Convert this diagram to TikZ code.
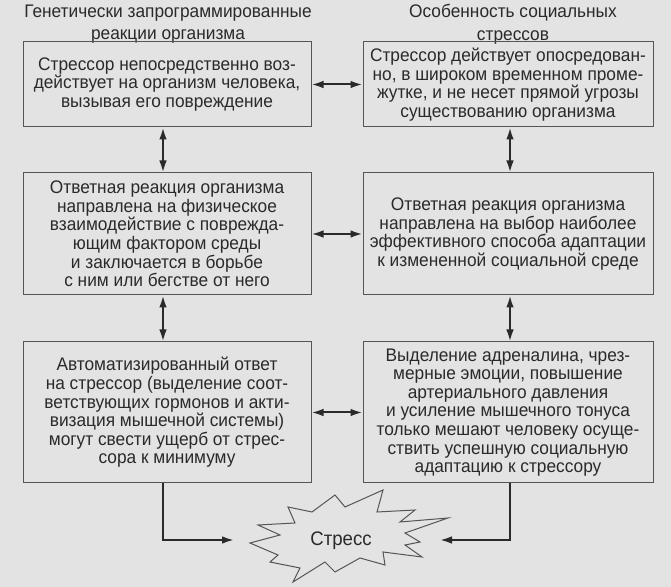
\documentclass[tikz,border=0pt]{standalone}
\usepackage{fontspec}
\setmainfont{Liberation Sans}[FakeStretch=0.95]
\usetikzlibrary{arrows.meta}
\definecolor{paper}{HTML}{E3E3E3}
\definecolor{ink}{HTML}{2A2A2A}
\begin{document}
\begin{tikzpicture}[x=0.5pt,y=-0.5pt,font=\fontsize{9.1}{9.3}\selectfont,text=ink]
\tikzstyle{box}=[draw=ink!80,line width=0.5pt,align=center,minimum width=144pt,inner sep=0pt]
\tikzstyle{head}=[align=center,inner sep=0pt]
\tikzstyle{link}=[{Latex[length=6pt,width=3.8pt]}-{Latex[length=6pt,width=3.8pt]},draw=ink,line width=1pt]
\tikzstyle{tostar}=[-{Latex[length=6pt,width=3.8pt]},draw=ink,line width=1pt]
\fill[paper] (0,0) rectangle (671,587);
\useasboundingbox (0,0) rectangle (671,587);

\node[head](hl) at (168,24) {Генетически запрограммированные\\[2pt]реакции организма};
\node[head](hr) at (513,24) {Особенность социальных\\[2pt]стрессов};

\node[box,minimum height=42.5pt](b1) at (167,84.5) {Стрессор непосредственно воз-\\действует на организм человека,\\вызывая его повреждение};
\node[box,minimum width=145pt,minimum height=42.5pt](b2) at (508,84.5) {Стрессор действует опосредован-\\но, в широком временном проме-\\жутке, и не несет прямой угрозы\\существованию организма};

\node[box,minimum height=61pt](b3) at (167,234) {Ответная реакция организма\\направлена на физическое\\взаимодействие с поврежда-\\ющим фактором среды\\и заключается в борьбе\\с ним или бегстве от него};
\node[box,minimum width=145pt,minimum height=61pt](b4) at (508,234) {Ответная реакция организма\\направлена на выбор наиболее\\эффективного способа адаптации\\к измененной социальной среде};

\node[box,minimum height=70.5pt](b5) at (167,412.5) {Автоматизированный ответ\\на стрессор (выделение соот-\\ветствующих гормонов и акти-\\визация мышечной системы)\\могут свести ущерб от стрес-\\сора к минимуму};
\node[box,minimum width=145pt,minimum height=70.5pt](b6) at (508,412.5) {Выделение адреналина, чрез-\\мерные эмоции, повышение\\артериального давления\\и усиление мышечного тонуса\\только мешают человеку осуще-\\ствить успешную социальную\\адаптацию к стрессору};

% the burst
\draw[ink!80,line width=0.5pt,fill=paper] (258,525) -- (295,523) -- (288,507) -- (312,512) -- (335,495) -- (345,507) -- (383,490) -- (377,512) -- (415,510) -- (400,522) -- (448,518) -- (405,533) -- (420,542) -- (405,545) -- (422,557) -- (383,552) -- (385,565) -- (360,558) -- (335,572) -- (325,562) -- (293,582) -- (300,568) -- (270,562) -- (278,555) -- (250,543) -- (280,535) -- cycle;
\node[inner sep=0pt](st) at (341,541) {\fontsize{9.8}{10}\selectfont Стресс};
\coordinate (sl) at (234,540);
\coordinate (sr) at (440,540);

\draw[link] (b1) -- (b2);
\draw[link] (b3) -- (b4);
\draw[link] (b5) -- (b6);
\draw[link] (b1.south -| 163,0) -- (b3.north -| 163,0);
\draw[link] (b3.south -| 163,0) -- (b5.north -| 163,0);
\draw[link] (b2.south -| 510,0) -- (b4.north -| 510,0);
\draw[link] (b4.south -| 510,0) -- (b6.north -| 510,0);
\draw[tostar] (b5.south -| 163,0) |- (sl);
\draw[tostar] (b6.south -| 510,0) |- (sr);
\end{tikzpicture}
\end{document}
